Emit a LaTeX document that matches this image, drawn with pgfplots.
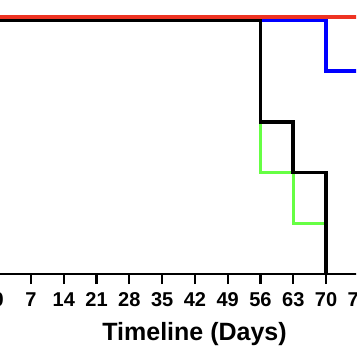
\documentclass[border=0pt]{standalone}
\usepackage{fontspec}
\setmainfont{Liberation Sans}
\usepackage{pgfplots}
\pgfplotsset{compat=1.18}
\definecolor{kmred}{HTML}{EE3322}
\definecolor{kmgreen}{HTML}{66FF44}
\definecolor{kmblue}{HTML}{0000FF}
\begin{document}
\begin{tikzpicture}[x=1pt,y=1pt]
\path[use as bounding box, clip] (0,0) rectangle (356,364);
\begin{axis}[
  at={(-1.78pt,90pt)}, anchor=south west,
  scale only axis, width=360.6pt, height=253.5pt,
  xmin=0, xmax=77, ymin=0, ymax=100,
  clip=false,
  axis x line*=bottom, axis y line=none,
  axis line style={line width=2.6pt, black},
  xtick={0,7,...,77},
  tick align=outside, major tick length=10pt,
  every tick/.style={black, line width=2.2pt},
  /pgf/number format/assume math mode=true,
  xticklabel style={font=\bfseries\fontsize{20}{20}\selectfont, yshift=-5pt},
  xlabel={Timeline (Days)},
  xlabel style={font=\bfseries\fontsize{25}{25}\selectfont, xshift=16pt, yshift=-9pt},
  line join=miter,
]
\addplot[const plot, kmgreen, line width=3.4pt] coordinates {(0,100) (56,40) (63,20) (70,0)};
\addplot[const plot, kmblue, line width=3.4pt] coordinates {(0,100) (70,80) (80,80)};
\addplot[const plot, black, line width=3.6pt] coordinates {(0,100) (56,60) (63,40) (70,0)};
\addplot[const plot, kmred, line width=3.4pt] coordinates {(-5,101.4) (80,101.4)};
\end{axis}
\end{tikzpicture}
\end{document}
